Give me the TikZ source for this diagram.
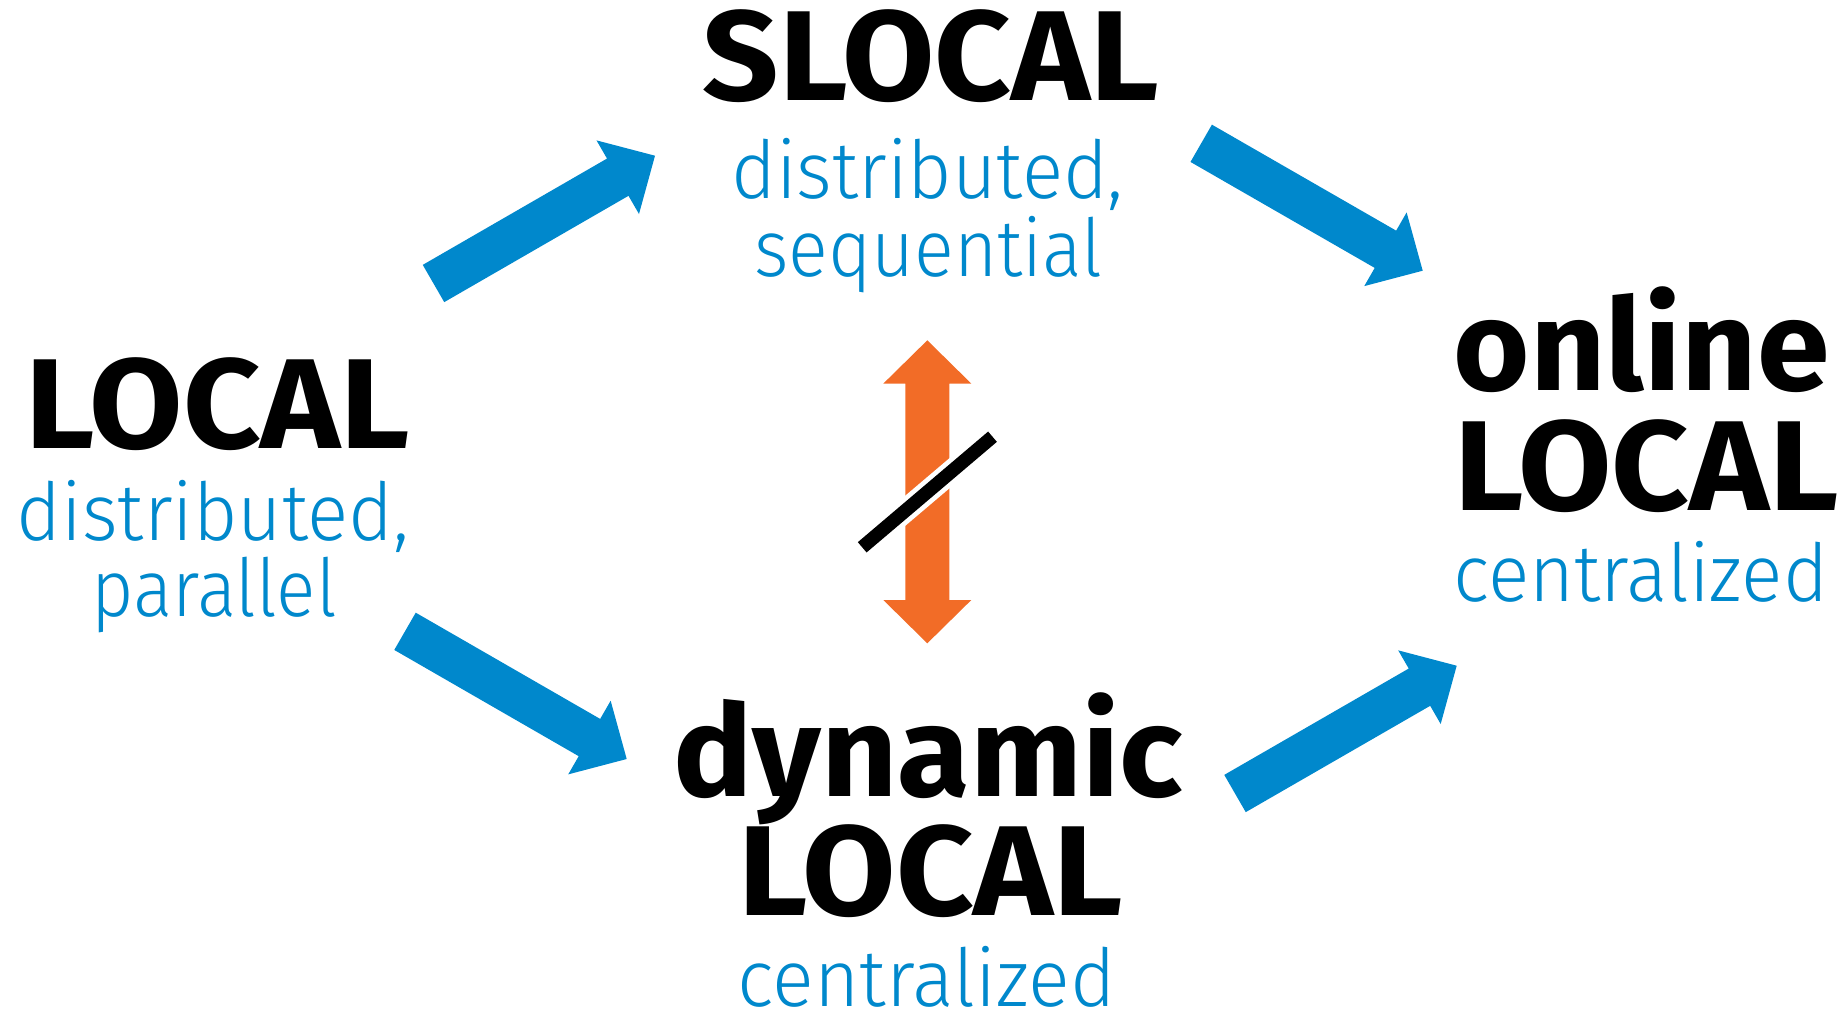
\documentclass[tikz,border=0pt]{standalone}
\usepackage{graphicx}
\usepackage{fontspec}
\setmainfont{Fira Sans}
\newfontfamily\lightf{Fira Sans Light}
\usetikzlibrary{calc}
\definecolor{ublue}{RGB}{0,136,204}
\definecolor{uorange}{RGB}{242,108,39}
\newcommand\blkarrow[3]{%
  \coordinate (bb) at ($(#2)!43pt!(#1)$);
  \fill[#3] ($(#1)!21.5pt!90:(#2)$) -- ($(bb)!21.5pt!90:(#2)$) -- ($(bb)!42.5pt!90:(#2)$) -- (#2)
    -- ($(bb)!42.5pt!-90:(#2)$) -- ($(bb)!21.5pt!-90:(#2)$) -- ($(#1)!21.5pt!-90:(#2)$) -- cycle;}
\newcommand\xs[2]{\scalebox{#1}[1]{#2}}
\tikzset{
  big/.style={font=\fontsize{128}{128}\selectfont\bfseries, anchor=base, inner sep=0pt},
  sub/.style={font={\fontsize{80}{80}\lightf}, text=ublue, anchor=base, inner sep=0pt},
}
\begin{document}
\begin{tikzpicture}[x=1pt,y=-1pt]
\useasboundingbox (0,0) rectangle (1847,1013);
% left
\node[big] (local) at (218,448) {\xs{1.057}{LOCAL}};
\node[sub] (localA) at (213,540) {\xs{0.958}{distributed,}};
\node[sub] (localB) at (214,616.7) {\xs{0.915}{parallel}};
% top
\node[big] (slocal) at (931,100.7) {\xs{1.045}{SLOCAL}};
\node[sub] (slocalA) at (927.5,198.3) {\xs{0.958}{distributed,}};
\node[sub] (slocalB) at (928.3,276) {\xs{0.925}{sequential}};
% right
\node[big] (online) at (1641.7,390) {\xs{1.023}{online}};
\node[big] (onlineB) at (1646.3,510.7) {\xs{1.057}{LOCAL}};
\node[sub] (onlineC) at (1640.8,601.7) {\xs{0.962}{centralized}};
% bottom
\node[big] (dynamic) at (928,796) {\xs{1.035}{dynamic}};
\node[big] (dynamicB) at (931,915) {\xs{1.057}{LOCAL}};
\node[sub] (dynamicC) at (926.5,1006) {\xs{0.97}{centralized}};
% blue arrows
\coordinate (a1s) at (433.5,283.5);   \coordinate (a1e) at (655,155.7);
\coordinate (a2s) at (1201.2,143.3);  \coordinate (a2e) at (1422.7,270.7);
\coordinate (a3s) at (405,631.3);     \coordinate (a3e) at (626.7,759);
\coordinate (a4s) at (1235,793.5);    \coordinate (a4e) at (1456.7,665.7);
\blkarrow{a1s}{a1e}{ublue}
\blkarrow{a2s}{a2e}{ublue}
\blkarrow{a3s}{a3e}{ublue}
\blkarrow{a4s}{a4e}{ublue}
% orange double arrow
\coordinate (ot) at (927.3,340.3);
\coordinate (ob) at (927.3,643.3);
\fill[uorange] (ot) -- ($(ot)+(44,43.3)$) -- ($(ot)+(22,43.3)$) -- ($(ob)+(22,-43.3)$) -- ($(ob)+(44,-43.3)$)
  -- (ob) -- ($(ob)+(-44,-43.3)$) -- ($(ob)+(-22,-43.3)$) -- ($(ot)+(-22,43.3)$) -- ($(ot)+(-44,43.3)$) -- cycle;
% slash
\coordinate (sl1) at (862.2,547.3);
\coordinate (sl2) at (992.5,436.7);
\draw[white, line width=23pt] (sl1) -- (sl2);
\draw[black, line width=13.5pt] (sl1) -- (sl2);
\end{tikzpicture}
\end{document}
